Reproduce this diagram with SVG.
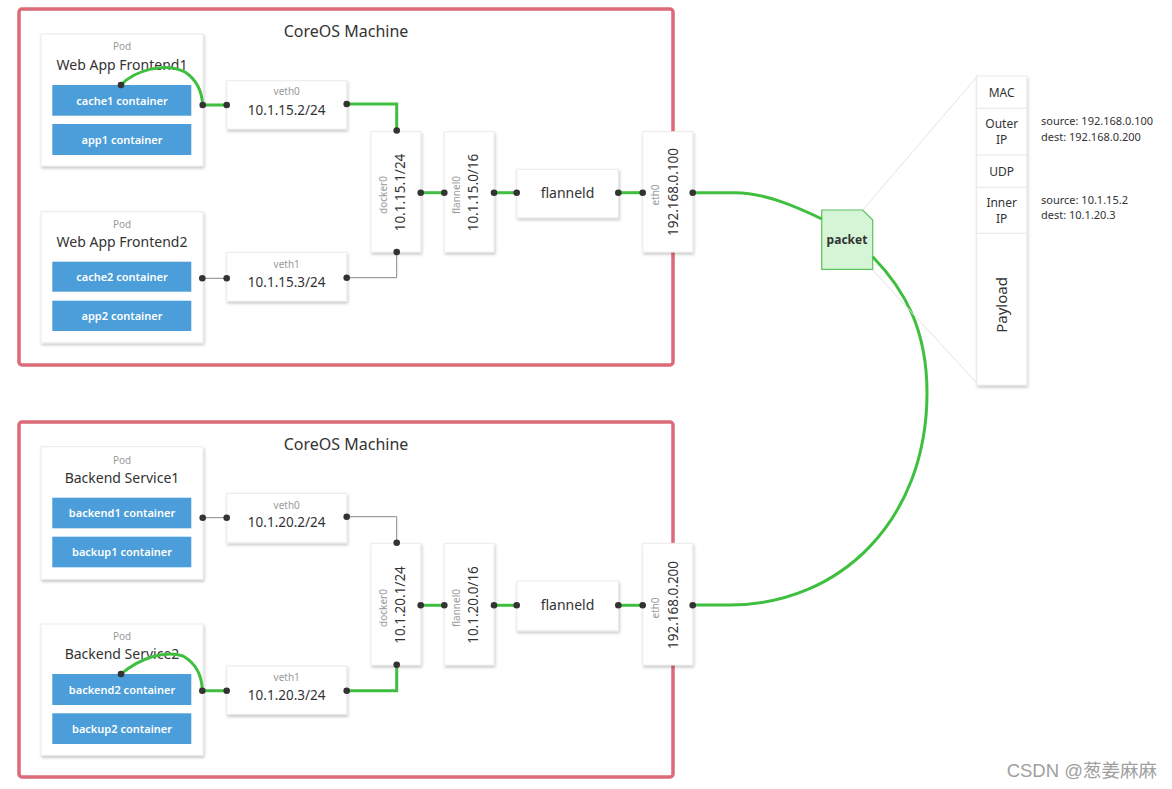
<svg xmlns="http://www.w3.org/2000/svg" width="1172" height="789" viewBox="0 0 1172 789">
<defs>
<filter id="sh" x="-20%" y="-20%" width="140%" height="140%">
<feDropShadow dx="1" dy="2" stdDeviation="1.5" flood-color="#000" flood-opacity="0.22"/>
</filter>
<style>
text{font-family:"Noto Sans","Open Sans","Liberation Sans",sans-serif;fill:#333}
.machine{fill:none;stroke:#dc6a78;stroke-width:3.5}
.title{font-size:16px;text-anchor:middle}
.box{fill:#fff;stroke:#ececec;stroke-width:1;filter:url(#sh)}
.pod{font-size:10px;fill:#9a9a9a;text-anchor:middle}
.pname{font-size:14px;text-anchor:middle}
.ctr{fill:#4b9ed9}
.ctrt{font-size:11px;font-weight:600;fill:#fff;text-anchor:middle}
.small{font-size:10px;fill:#9a9a9a;text-anchor:middle}
.addr{font-size:13.5px;text-anchor:middle}
.g{fill:none;stroke:#3fbf3f;stroke-width:3}
.k{fill:none;stroke:#888;stroke-width:1}
.dot{fill:#333}
.faint{stroke:#e4e4e4;stroke-width:1;fill:none}
.hdr{font-size:12px;text-anchor:middle}
.side{font-size:11px}
</style>
</defs>
<rect width="1172" height="789" fill="#fff"/>

<g id="machine1">
<rect class="machine" x="19" y="9" width="654" height="356" rx="3"/>
<text class="title" x="346" y="37">CoreOS Machine</text>
</g>
<g id="machine2">
<rect class="machine" x="19" y="422" width="654" height="355" rx="3"/>
<text class="title" x="346" y="450">CoreOS Machine</text>
</g>

<g id="pod-frontend1">
<rect class="box" x="41" y="34" width="162" height="132"/>
<text class="pod" x="122" y="50">Pod</text>
<text class="pname" x="122" y="70">Web App Frontend1</text>
<rect class="ctr" x="52.3" y="85" width="139" height="30.7"/>
<text class="ctrt" x="122" y="104.5">cache1 container</text>
<rect class="ctr" x="52.3" y="124" width="139" height="31"/>
<text class="ctrt" x="122" y="143.5">app1 container</text>
</g>
<g id="pod-frontend2">
<rect class="box" x="41" y="211.7" width="162" height="131"/>
<text class="pod" x="122" y="227.5">Pod</text>
<text class="pname" x="122" y="246.5">Web App Frontend2</text>
<rect class="ctr" x="52.3" y="261.7" width="139" height="30"/>
<text class="ctrt" x="122" y="280.7">cache2 container</text>
<rect class="ctr" x="52.3" y="300.7" width="139" height="30.3"/>
<text class="ctrt" x="122" y="319.8">app2 container</text>
</g>
<g id="veth0-top">
<rect class="box" x="226.7" y="80.7" width="120" height="48.3"/>
<text class="small" x="286.7" y="95">veth0</text>
<text class="addr" x="286.7" y="115">10.1.15.2/24</text>
</g>
<g id="veth1-top">
<rect class="box" x="226.7" y="252.3" width="120" height="48.7"/>
<text class="small" x="286.7" y="267.5">veth1</text>
<text class="addr" x="286.7" y="286.5">10.1.15.3/24</text>
</g>
<g id="docker0-top">
<rect class="box" x="371" y="131.7" width="49.7" height="120.3"/>
<text class="small" transform="translate(387,195) rotate(-90)">docker0</text>
<text class="addr" transform="translate(405,192.5) rotate(-90)">10.1.15.1/24</text>
</g>
<g id="flannel0-top">
<rect class="box" x="444.3" y="131.7" width="49.7" height="120.3"/>
<text class="small" transform="translate(460,195) rotate(-90)">flannel0</text>
<text class="addr" transform="translate(478.3,192.5) rotate(-90)">10.1.15.0/16</text>
</g>
<g id="flanneld-top">
<rect class="box" x="516.7" y="169.3" width="101.6" height="48.4"/>
<text class="addr" x="567.5" y="197.5" style="font-size:14px">flanneld</text>
</g>
<g id="eth0-top">
<rect class="box" x="642.7" y="131.7" width="50" height="120.3"/>
<text class="small" transform="translate(659,195) rotate(-90)">eth0</text>
<text class="addr" transform="translate(678.3,192) rotate(-90)">192.168.0.100</text>
</g>

<g id="pod-backend1">
<rect class="box" x="41" y="446.7" width="162" height="132.6"/>
<text class="pod" x="122" y="463.5">Pod</text>
<text class="pname" x="122" y="483">Backend Service1</text>
<rect class="ctr" x="52.3" y="497.7" width="139" height="30.6"/>
<text class="ctrt" x="122" y="516.7">backend1 container</text>
<rect class="ctr" x="52.3" y="536.7" width="139" height="30.6"/>
<text class="ctrt" x="122" y="555.7">backup1 container</text>
</g>
<g id="pod-backend2">
<rect class="box" x="41" y="624" width="162" height="131.3"/>
<text class="pod" x="122" y="639.5">Pod</text>
<text class="pname" x="122" y="658.5">Backend Service2</text>
<rect class="ctr" x="52.3" y="674" width="139" height="31"/>
<text class="ctrt" x="122" y="693.5">backend2 container</text>
<rect class="ctr" x="52.3" y="713.3" width="139" height="30.7"/>
<text class="ctrt" x="122" y="732.5">backup2 container</text>
</g>
<g id="veth0-bottom">
<rect class="box" x="226.7" y="493.3" width="120" height="49.4"/>
<text class="small" x="286.7" y="508.5">veth0</text>
<text class="addr" x="286.7" y="527">10.1.20.2/24</text>
</g>
<g id="veth1-bottom">
<rect class="box" x="226.7" y="666" width="120" height="48.3"/>
<text class="small" x="286.7" y="680.5">veth1</text>
<text class="addr" x="286.7" y="700">10.1.20.3/24</text>
</g>
<g id="docker0-bottom">
<rect class="box" x="371" y="543.3" width="49.7" height="121.7"/>
<text class="small" transform="translate(387,608) rotate(-90)">docker0</text>
<text class="addr" transform="translate(405,605) rotate(-90)">10.1.20.1/24</text>
</g>
<g id="flannel0-bottom">
<rect class="box" x="444.3" y="543.3" width="49.7" height="121.7"/>
<text class="small" transform="translate(460,608) rotate(-90)">flannel0</text>
<text class="addr" transform="translate(478.3,605) rotate(-90)">10.1.20.0/16</text>
</g>
<g id="flanneld-bottom">
<rect class="box" x="516.7" y="581" width="101.6" height="49.7"/>
<text class="addr" x="567.5" y="610" style="font-size:14px">flanneld</text>
</g>
<g id="eth0-bottom">
<rect class="box" x="642.7" y="543.3" width="50" height="121.7"/>
<text class="small" transform="translate(659,608) rotate(-90)">eth0</text>
<text class="addr" transform="translate(678.3,605) rotate(-90)">192.168.0.200</text>
</g>

<g id="packet">
<path d="M821.7 210 L862.7 210 L872.7 220 L872.7 269.3 L821.7 269.3 Z" fill="#d6f5d6" stroke="#5cc25c" stroke-width="1.2"/>
<text x="847" y="244" style="font-size:12px;font-weight:bold;text-anchor:middle">packet</text>
</g>

<g id="packet-header">
<rect class="box" x="976.7" y="76" width="50" height="309"/>
<path d="M976.7 108.3 H1026.7 M976.7 155 H1026.7 M976.7 187.3 H1026.7 M976.7 233.3 H1026.7" stroke="#e6e6e6" stroke-width="1"/>
<text class="hdr" x="1001.7" y="97">MAC</text>
<text class="hdr" x="1001.7" y="128">Outer</text>
<text class="hdr" x="1001.7" y="144">IP</text>
<text class="hdr" x="1001.7" y="175.5">UDP</text>
<text class="hdr" x="1001.7" y="206.5">Inner</text>
<text class="hdr" x="1001.7" y="222.5">IP</text>
<text class="hdr" transform="translate(1006.5,305) rotate(-90)" style="font-size:15px">Payload</text>
</g>
<g id="header-notes">
<text class="side" x="1041" y="125">source: 192.168.0.100</text>
<text class="side" x="1041" y="141">dest: 192.168.0.200</text>
<text class="side" x="1041" y="204">source: 10.1.15.2</text>
<text class="side" x="1041" y="219">dest: 10.1.20.3</text>
</g>

<g id="connectors">
<path class="g" d="M121 85 C135 70 165 62 185 72 C197 80 202 92 202.7 105 L226 105"/>
<path class="g" d="M346.7 104 L396.7 104 L396.7 130"/>
<path class="k" d="M202.3 278.3 L226 278.3"/>
<path class="k" d="M346 277.7 L396.7 277.7 L396.7 252"/>
<path class="g" d="M420.7 192.7 L444.3 192.7"/>
<path class="g" d="M494 192.7 L516.7 192.7"/>
<path class="g" d="M618.3 192.7 L642.7 192.7"/>
<path class="k" d="M202.7 517.7 L226 517.7"/>
<path class="k" d="M346.7 516.7 L396.7 516.7 L396.7 542.7"/>
<path class="g" d="M121 674 C140 658 165 650 183 656 C197 664 202 676 202.3 690.7 L226 690.7"/>
<path class="g" d="M346 690.7 L396.7 690.7 L396.7 664.7"/>
<path class="g" d="M420.7 605.3 L444.3 605.3"/>
<path class="g" d="M494 605.3 L516.7 605.3"/>
<path class="g" d="M618.3 605.3 L642.7 605.3"/>
<path class="g" d="M692.7 192.7 L735 192.7 C765 193 795 206 822 219"/>
<path class="g" d="M872.7 256.7 C905 290 927 330 927 393 C927 520 840 605 730 605 L692.7 605"/>
<path class="faint" d="M862.7 210 L976.7 77"/>
<path class="faint" d="M872.7 270 L976.7 383"/>
<circle class="dot" cx="121" cy="85" r="3.3"/>
<circle class="dot" cx="202.7" cy="105" r="3.3"/>
<circle class="dot" cx="226.7" cy="105" r="3.3"/>
<circle class="dot" cx="346.7" cy="104" r="3.3"/>
<circle class="dot" cx="396.7" cy="130.5" r="3.3"/>
<circle class="dot" cx="202.3" cy="278.3" r="3.3"/>
<circle class="dot" cx="226.7" cy="278.3" r="3.3"/>
<circle class="dot" cx="346.7" cy="277.7" r="3.3"/>
<circle class="dot" cx="396.7" cy="252" r="3.3"/>
<circle class="dot" cx="420.7" cy="192.7" r="3.3"/>
<circle class="dot" cx="444.3" cy="192.7" r="3.3"/>
<circle class="dot" cx="494" cy="192.7" r="3.3"/>
<circle class="dot" cx="516.7" cy="192.7" r="3.3"/>
<circle class="dot" cx="618.3" cy="192.7" r="3.3"/>
<circle class="dot" cx="642.7" cy="192.7" r="3.3"/>
<circle class="dot" cx="692.7" cy="192.7" r="3.3"/>
<circle class="dot" cx="202.7" cy="517.7" r="3.3"/>
<circle class="dot" cx="226.7" cy="517.7" r="3.3"/>
<circle class="dot" cx="346.7" cy="516.7" r="3.3"/>
<circle class="dot" cx="396.7" cy="542.7" r="3.3"/>
<circle class="dot" cx="121" cy="674" r="3.3"/>
<circle class="dot" cx="202.3" cy="690.7" r="3.3"/>
<circle class="dot" cx="226.7" cy="690.7" r="3.3"/>
<circle class="dot" cx="346.7" cy="690.7" r="3.3"/>
<circle class="dot" cx="396.7" cy="664.7" r="3.3"/>
<circle class="dot" cx="420.7" cy="605.3" r="3.3"/>
<circle class="dot" cx="444.3" cy="605.3" r="3.3"/>
<circle class="dot" cx="494" cy="605.3" r="3.3"/>
<circle class="dot" cx="516.7" cy="605.3" r="3.3"/>
<circle class="dot" cx="618.3" cy="605.3" r="3.3"/>
<circle class="dot" cx="642.7" cy="605.3" r="3.3"/>
<circle class="dot" cx="692.7" cy="605.3" r="3.3"/>
</g>

<text x="1157" y="777" style="font-family:'Liberation Sans','Noto Sans CJK SC',sans-serif;font-size:18.5px;fill:#a0a0a0;text-anchor:end">CSDN @葱姜麻麻</text>
</svg>
